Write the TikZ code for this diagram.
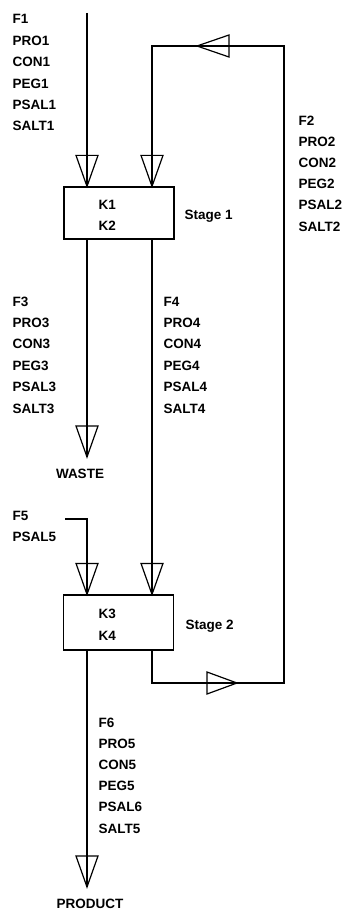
\documentclass[tikz,border=0pt]{standalone}
\usepackage{fontspec}
\setmainfont{Liberation Sans}
\begin{document}
\begin{tikzpicture}[x=1pt,y=-1pt,line width=1.2pt,
  lbl/.style={anchor=base west,inner sep=0,font=\bfseries\fontsize{13.5}{16}\selectfont},
  ctr/.style={anchor=base,inner sep=0,font=\bfseries\fontsize{13.5}{16}\selectfont},
  box/.style={draw,minimum width=110pt,minimum height=52pt,inner sep=0},
  darrow/.pic={\draw (0,0) -- (-11,-31) -- (11,-31) -- cycle;},
  larrow/.pic={\draw (0,0) -- (32,-11) -- (32,11) -- cycle;},
  rarrow/.pic={\draw (0,0) -- (-30,-11) -- (-30,11) -- cycle;}]
\useasboundingbox (0,0) rectangle (342,909);
% boxes
\node[box] (s1) at (119,213) {};
\node[box,minimum height=55pt] (s2) at (118.5,622.5) {};
\node[lbl] (k1) at (98,210) {K1};
\node[lbl] (k2) at (98,230) {K2};
\node[lbl] (k3) at (98,618) {K3};
\node[lbl] (k4) at (98,640) {K4};
\node[lbl] (st1) at (184,219) {Stage 1};
\node[lbl] (st2) at (185,629) {Stage 2};
% coordinates
\coordinate (f1top) at (87,13);
\coordinate (waste) at (87,457);
\coordinate (f5start) at (65,519);
\coordinate (product) at (87,887);
\coordinate (rb) at (284,683);
\coordinate (rt) at (284,46);
\coordinate (r1) at (152,46);
% connectors
\draw (f1top) -- (f1top |- s1.north);
\draw (waste |- s1.south) -- (waste);
\draw (r1 |- s1.south) -- (r1 |- s2.north);
\draw (r1 |- s2.south) -- (r1 |- rb) -- (rb) -- (rt) -- (r1) -- (r1 |- s1.north);
\draw (f5start) -- (f5start -| waste) -- (waste |- s2.north);
\draw (waste |- s2.south) -- (product);
% arrowheads
\pic at (f1top |- s1.north) {darrow};
\pic at (r1 |- s1.north) {darrow};
\pic at (waste |- s2.north) {darrow};
\pic at (r1 |- s2.north) {darrow};
\pic at (waste) {darrow};
\pic at (product) {darrow};
\pic at (197,46) {larrow};
\pic at (237,683) {rarrow};
% end labels
\node[ctr] (wl) at (80,478) {WASTE};
\node[ctr] (pl) at (90,908) {PRODUCT};
% stream labels
\foreach \t [count=\i] in {F1,PRO1,CON1,PEG1,PSAL1,SALT1}
  \node[lbl] (a\i) at (12,{24+21.4*(\i-1)}) {\t};
\foreach \t [count=\i] in {F2,PRO2,CON2,PEG2,PSAL2,SALT2}
  \node[lbl] (b\i) at (298,{126+21*(\i-1)}) {\t};
\foreach \t [count=\i] in {F3,PRO3,CON3,PEG3,PSAL3,SALT3}
  \node[lbl] (c\i) at (12,{306+21.4*(\i-1)}) {\t};
\foreach \t [count=\i] in {F4,PRO4,CON4,PEG4,PSAL4,SALT4}
  \node[lbl] (d\i) at (163,{306+21.4*(\i-1)}) {\t};
\foreach \t [count=\i] in {F5,PSAL5}
  \node[lbl] (e\i) at (12,{520+21*(\i-1)}) {\t};
\foreach \t [count=\i] in {F6,PRO5,CON5,PEG5,PSAL6,SALT5}
  \node[lbl] (g\i) at (98,{727+21.2*(\i-1)}) {\t};
\end{tikzpicture}
\end{document}
